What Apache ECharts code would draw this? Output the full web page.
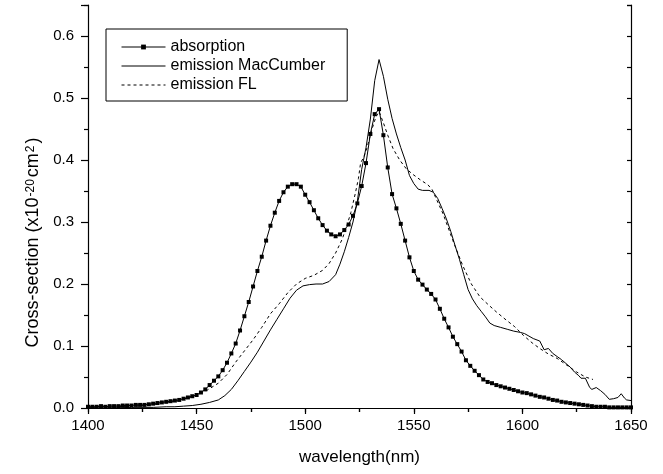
<!DOCTYPE html>
<html>
<head>
<meta charset="utf-8">
<script src="https://cdn.jsdelivr.net/npm/echarts@6/dist/echarts.min.js"></script>
<style>html,body{margin:0;padding:0;background:#fff}#c{width:663px;height:474px}</style>
</head>
<body>
<div id="c"></div>
<script>
// Absorption (2 nm sampling)
const absWl = [1400,1402,1404,1406,1408,1410,1412,1414,1416,1418,1420,1422,1424,1426,1428,1430,1432,1434,1436,1438,
1440,1442,1444,1446,1448,1450,1452,1454,1456,1458,1460,1462,1464,1466,1468,1470,1472,1474,1476,1478,
1480,1482,1484,1486,1488,1490,1492,1494,1496,1498,1500,1502,1504,1506,1508,1510,1512,1514,1516,1518,
1520,1522,1524,1526,1528,1530,1532,1534,1536,1538,1540,1542,1544,1546,1548,1550,1552,1554,1556,1558,
1560,1562,1564,1566,1568,1570,1572,1574,1576,1578,1580,1582,1584,1586,1588,1590,1592,1594,1596,1598,
1600,1602,1604,1606,1608,1610,1612,1614,1616,1618,1620,1622,1624,1626,1628,1630,1632,1634,1636,1638,
1640,1642,1644,1646,1648,1650];
const absVal = [0.002,0.002,0.002,0.003,0.002,0.003,0.003,0.003,0.004,0.004,0.004,0.005,0.005,0.005,0.006,0.007,0.008,0.009,0.010,0.011,
0.012,0.013,0.015,0.017,0.019,0.021,0.025,0.030,0.037,0.044,0.051,0.061,0.073,0.088,0.104,0.125,0.148,0.171,0.196,0.221,
0.244,0.270,0.294,0.315,0.334,0.348,0.357,0.361,0.361,0.357,0.344,0.332,0.319,0.306,0.295,0.286,0.280,0.277,0.280,0.287,
0.296,0.310,0.330,0.358,0.395,0.442,0.474,0.482,0.440,0.388,0.345,0.322,0.297,0.270,0.243,0.221,0.207,0.199,0.191,0.184,
0.175,0.160,0.144,0.130,0.115,0.103,0.091,0.077,0.068,0.060,0.053,0.046,0.042,0.040,0.037,0.035,0.033,0.031,0.029,0.027,
0.025,0.024,0.022,0.020,0.018,0.017,0.015,0.013,0.012,0.010,0.009,0.008,0.007,0.006,0.005,0.004,0.003,0.002,0.002,0.002,
0.001,0.001,0.001,0.001,0.001,0.001];

// Emission MacCumber
const mcWl = [1400,1410,1420,1430,1436,1440,1444,1448,1452,1456,1460,1463,1466,1469,1472,1475,1478,1481,1484,1487,
1490,1493,1496,1499,1502,1505,1508,1511,1514,1516,1518,1520,1522,1524,1526,1528,1530,1532,1534,1536,
1538,1540,1542,1544,1546,1548,1550,1552,1554,1557,1559,1561,1563,1565,1567,1569,1571,1573,1575,1577,
1579,1581,1583,1585,1587,1590,1593,1596,1599,1601,1603,1605,1608,1610,1612,1614,1616,1618,1620,1622,
1624,1626,1627,1629,1631,1632,1634,1636,1638,1640,1642,1644,1645.5,1647,1648,1650];
const mcVal = [0.000,0.000,0.001,0.001,0.002,0.002,0.003,0.004,0.006,0.009,0.013,0.020,0.030,0.044,0.059,0.074,0.090,0.108,0.126,0.143,
0.160,0.177,0.190,0.197,0.199,0.200,0.200,0.204,0.215,0.232,0.252,0.275,0.300,0.333,0.385,0.420,0.466,0.528,0.562,0.535,
0.498,0.467,0.442,0.420,0.400,0.375,0.362,0.353,0.351,0.351,0.348,0.338,0.322,0.305,0.285,0.262,0.240,0.215,0.191,0.176,
0.165,0.156,0.147,0.137,0.133,0.130,0.127,0.124,0.122,0.120,0.116,0.112,0.108,0.094,0.096,0.088,0.083,0.078,0.072,0.066,
0.058,0.052,0.048,0.048,0.033,0.030,0.033,0.028,0.022,0.014,0.015,0.017,0.023,0.016,0.013,0.012];

// Emission FL
const flWl = [1400,1410,1420,1427,1435,1442,1450,1455,1460,1464,1468,1472,1476,1480,1484,1488,1492,1496,1500,1504,
1508,1511,1514,1517,1519,1521,1523,1524.5,1525.5,1527,1528.5,1530.5,1532.5,1534,1536,1538,1540.5,1543.5,1546.5,1549.5,
1553,1556.5,1558.5,1560,1563.5,1568,1572.5,1576.5,1580.5,1584.5,1588,1592.5,1596.5,1600.5,1604.5,1608,1612,1616,1620.5,1625,
1629,1632.5];
const flVal = [0.001,0.002,0.003,0.004,0.008,0.012,0.021,0.029,0.040,0.054,0.074,0.092,0.110,0.130,0.152,0.168,0.186,0.200,0.209,0.214,
0.222,0.233,0.250,0.272,0.292,0.315,0.345,0.370,0.395,0.405,0.420,0.447,0.469,0.478,0.460,0.440,0.418,0.400,0.386,0.377,
0.368,0.360,0.352,0.340,0.313,0.270,0.230,0.200,0.179,0.166,0.155,0.142,0.131,0.117,0.105,0.096,0.087,0.080,0.069,0.058,
0.050,0.046];

// Axis ticks
const xMin = 1400, xMax = 1650, xStep = 50;
const yMin = 0, yMax = 0.65, yStep = 0.1;

const seriesNames = ['absorption', 'emission MacCumber', 'emission FL'];
const FONT = "'Liberation Sans', Arial, sans-serif";

function pairs(xs, ys) { return xs.map((x, i) => [x, ys[i]]); }

const chart = echarts.init(document.getElementById('c'), null, {renderer: 'canvas'});
const black = '#000';
chart.setOption({
  animation: false,
  backgroundColor: '#fff',
  grid: {left: 88, right: 32, top: 5, bottom: 66},
  legend: {
    left: 106, top: 29,
    orient: 'vertical',
    padding: [10, 22, 8, 15],
    itemGap: 3,
    itemWidth: 44,
    itemHeight: 6,
    borderColor: black,
    borderWidth: 1,
    selectedMode: false,
    lineStyle: {width: 1},
    data: seriesNames,
    textStyle: {fontSize: 16, color: black, fontFamily: FONT}
  },
  xAxis: [{
    type: 'value', min: xMin, max: xMax, interval: xStep, position: 'bottom',
    axisLine: {lineStyle: {color: black, width: 1.2}},
    axisTick: {length: 6, lineStyle: {color: black, width: 1.2}},
    minorTick: {show: true, splitNumber: 2, length: 4, lineStyle: {color: black, width: 1.2}},
    splitLine: {show: false},
    axisLabel: {fontSize: 15, color: black, margin: 10, fontFamily: FONT, formatter: v => String(v)},
    name: 'wavelength(nm)', nameLocation: 'middle', nameGap: 41,
    nameTextStyle: {fontSize: 17, color: black, fontFamily: FONT}
  }, {
    type: 'value', min: xMin, max: xMax, interval: xStep, position: 'top',
    axisLine: {lineStyle: {color: black, width: 1.2}},
    axisTick: {inside: true, length: 4, lineStyle: {color: black, width: 1.2}},
    minorTick: {show: true, splitNumber: 2, length: 4, lineStyle: {color: black, width: 1.2}},
    splitLine: {show: false},
    axisLabel: {show: false}
  }],
  yAxis: [{
    type: 'value', min: yMin, max: yMax, interval: yStep, position: 'left',
    axisLine: {lineStyle: {color: black, width: 1.2}},
    axisTick: {length: 7, lineStyle: {color: black, width: 1.2}},
    minorTick: {show: true, splitNumber: 2, length: 4, lineStyle: {color: black, width: 1.2}},
    splitLine: {show: false},
    axisLabel: {fontSize: 15, color: black, margin: 14, fontFamily: FONT, showMaxLabel: false,
      formatter: v => v.toFixed(1)},
    name: 'Cross-section (x10{s|-20}cm{s|2})', nameLocation: 'middle', nameGap: 45, nameRotate: 90,
    nameTextStyle: {fontSize: 18, color: black, fontFamily: FONT, padding: [0, 72, 0, 0],
      rich: {s: {fontSize: 12, color: black, fontFamily: FONT, verticalAlign: 'top', padding: [0, 2, 0, 1]}}}
  }, {
    type: 'value', min: yMin, max: yMax, interval: yStep, position: 'right',
    axisLine: {lineStyle: {color: black, width: 1.2}},
    axisTick: {inside: true, length: 4, lineStyle: {color: black, width: 1.2}},
    minorTick: {show: true, splitNumber: 2, length: 4, lineStyle: {color: black, width: 1.2}},
    splitLine: {show: false},
    axisLabel: {show: false}
  }],
  series: [{
    name: seriesNames[0], type: 'line', data: pairs(absWl, absVal),
    symbol: 'rect', symbolSize: 4, showSymbol: true,
    lineStyle: {color: black, width: 1}, itemStyle: {color: black}, z: 3
  }, {
    name: seriesNames[1], type: 'line', data: pairs(mcWl, mcVal),
    symbol: 'none', lineStyle: {color: black, width: 1}, itemStyle: {color: black, opacity: 0}
  }, {
    name: seriesNames[2], type: 'line', data: pairs(flWl, flVal),
    symbol: 'none', lineStyle: {color: black, width: 1, type: [3, 3]}, itemStyle: {color: black, opacity: 0}
  }]
});
</script>
</body>
</html>
